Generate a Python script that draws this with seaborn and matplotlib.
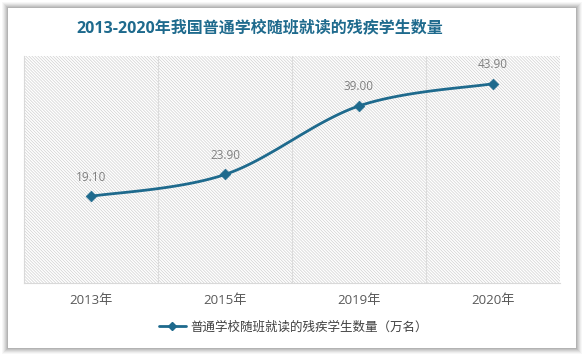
import numpy as np
import pandas as pd
import seaborn as sns
import matplotlib.pyplot as plt
from matplotlib.patches import Rectangle
from matplotlib.lines import Line2D

sns.set_style("white")
plt.rcParams['font.family'] = ['Open Sans', 'Noto Sans CJK SC', 'DejaVu Sans']
plt.rcParams['hatch.linewidth'] = 0.5

# data
years = ['2013年', '2015年', '2019年', '2020年']
values = [19.10, 23.90, 39.00, 43.90]
series_name = '普通学校随班就读的残疾学生数量（万名）'
title = '2013-2020年我国普通学校随班就读的残疾学生数量'

line_color = '#1e6a8d'

df = pd.DataFrame({'year': years, 'value': values, 'pos': range(len(years))})


# excel-like smoothed line (bezier through the points)
def smooth(xs, ys, n=40):
    p = np.column_stack([xs, ys]).astype(float)
    pe = np.vstack([p[0], p, p[-1]])
    out = []
    for i in range(len(p) - 1):
        p0, p3 = pe[i + 1], pe[i + 2]
        c1 = p0 + (pe[i + 2] - pe[i]) / 6
        c2 = p3 - (pe[i + 3] - pe[i + 1]) / 6
        t = np.linspace(0, 1, n)[:, None]
        seg = (1 - t) ** 3 * p0 + 3 * (1 - t) ** 2 * t * c1 + 3 * (1 - t) * t ** 2 * c2 + t ** 3 * p3
        out.append(seg if i == 0 else seg[1:])
    out = np.vstack(out)
    return out[:, 0], out[:, 1]


fig = plt.figure(figsize=(5.86, 3.58), dpi=100)
fig.patch.set_facecolor('white')

# card shadow
W, H = 586, 358
for k, a in enumerate([0.03, 0.04, 0.05, 0.06, 0.07, 0.08]):
    off = 6 - k
    fig.patches.append(Rectangle(((8 - off) / W, (10 - off) / H), (568 + 2 * off) / W, (340 + 2 * off) / H,
                                 transform=fig.transFigure, facecolor='black', alpha=a,
                                 edgecolor='none', zorder=0))
fig.patches.append(Rectangle((8 / W, 10 / H), 568 / W, 340 / H, transform=fig.transFigure,
                             facecolor='white', edgecolor='none', zorder=1))

ax = fig.add_axes([24 / W, 1 - 283 / H, 536 / W, 227 / H])
ax.set_zorder(2)
ax.patch.set_alpha(0)

# hatched plot area
ax.add_patch(Rectangle((0, 0), 1, 1, transform=ax.transAxes, facecolor='white',
                       edgecolor='#d0d0d0', hatch='\\' * 11, linewidth=0, zorder=0))

xs, ys = smooth(df['pos'], df['value'])
ax.plot(xs, ys, color=line_color, linewidth=2, zorder=3)
sns.scatterplot(data=df, x='pos', y='value', marker='D', s=30, color=line_color,
                edgecolor=line_color, ax=ax, zorder=4)

for _, r in df.iterrows():
    ax.annotate(f"{r['value']:.2f}", (r['pos'], r['value']), xytext=(0, 9),
                textcoords='offset points', ha='center', va='bottom',
                fontsize=8.5, color='#7f7f7f')

ax.set_xlim(-0.5, 3.5)
ax.set_ylim(0, 50)
ax.set_xticks(df['pos'])
ax.set_xticklabels(years, fontsize=9.5, color='#595959')
ax.set_yticks([])
ax.set_xticks([0.5, 1.5, 2.5], minor=True)
ax.grid(which='minor', axis='x', color='#dcdcdc', linewidth=0.8)
ax.tick_params(axis='x', which='both', length=0, pad=8)
ax.set_xlabel('')
ax.set_ylabel('')
for s in ['top', 'right']:
    ax.spines[s].set_visible(False)
ax.spines['left'].set_color('#d9d9d9')
ax.spines['bottom'].set_color('#d9d9d9')

fig.text(260 / W, 1 - 28 / H, title, ha='center', va='center', fontsize=11.5,
         fontweight='bold', color='#1e6a8d', zorder=5)

handle = Line2D([], [], color=line_color, linewidth=2, marker='D', markersize=4)
fig.legend([handle], [series_name], loc='center', bbox_to_anchor=(0.5, 1 - 327 / H),
           frameon=False, fontsize=9, handlelength=2.2, handletextpad=0.3,
           labelcolor='#404040')

fig.savefig('out.png', dpi=100)
